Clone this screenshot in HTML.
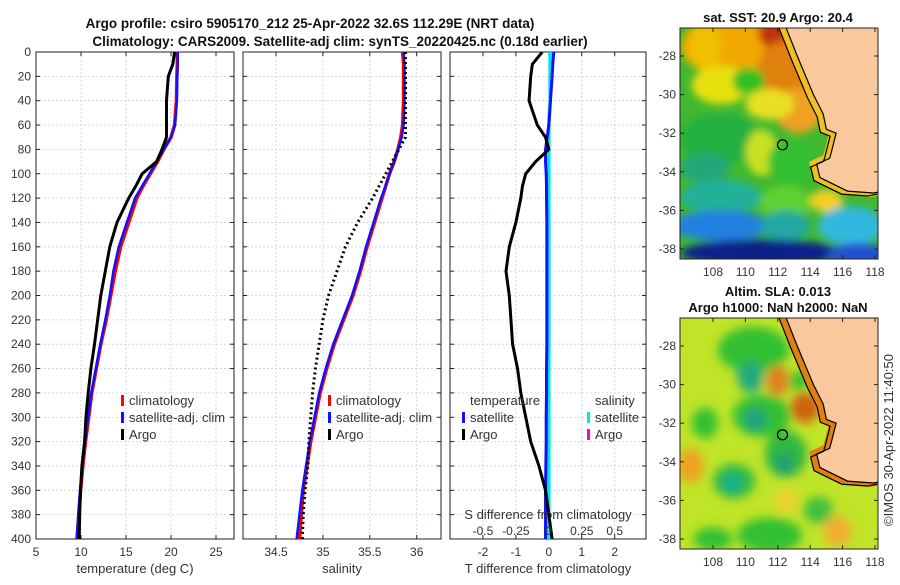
<!DOCTYPE html>
<html><head><meta charset="utf-8"><style>
body{margin:0;background:#fff;}
svg text{font-family:"Liberation Sans",sans-serif;fill:#333;}
</style></head><body>
<svg id="c" width="900" height="580" xmlns="http://www.w3.org/2000/svg">
<defs>
<filter id="bl1" x="-20%" y="-20%" width="140%" height="140%"><feGaussianBlur stdDeviation="4"/></filter>
<filter id="bl2" x="-20%" y="-20%" width="140%" height="140%"><feGaussianBlur stdDeviation="5"/></filter>
<clipPath id="cm1"><rect x="680" y="28" width="198" height="231"/></clipPath>
<clipPath id="cm2"><rect x="680" y="318" width="198" height="231"/></clipPath>
<clipPath id="cp3"><rect x="450" y="52" width="196" height="487"/></clipPath>
</defs>
<text x="310" y="28" font-size="13.5" font-weight="bold" text-anchor="middle" style="fill:#111">Argo profile: csiro 5905170_212 25-Apr-2022 32.6S 112.29E (NRT data)</text>
<text x="340" y="46" font-size="13.5" font-weight="bold" text-anchor="middle" style="fill:#111">Climatology: CARS2009. Satellite-adj clim: synTS_20220425.nc (0.18d earlier)</text>
<g id="g"></g>
</svg>
<script>
const depthTicks=[0,20,40,60,80,100,120,140,160,180,200,220,240,260,280,300,320,340,360,380,400];
const tempTicks=[5,10,15,20,25];
const salTicks=[34.5,35,35.5,36];
const tdTicks=[-2,-1,0,1,2];
const sdTicks=[-0.5,-0.25,0,0.25,0.5];
const sdLabels=["-0.5","-0.25","0","0.25","0.5"];
const depths=[0,10,20,40,60,70,80,90,100,110,120,140,160,180,200,220,240,260,280,300,320,340,360,380,400];
const tempArgo=[20.4,20.2,19.7,19.5,19.5,19.5,19.0,18.4,16.8,16.1,15.3,14.0,13.2,12.7,12.2,11.85,11.5,11.1,10.8,10.55,10.4,10.1,9.95,9.85,9.8];
const tempClim=[20.7,20.7,20.65,20.6,20.4,20.0,19.2,18.5,17.7,16.9,16.2,15.3,14.4,13.8,13.3,12.8,12.2,11.7,11.2,10.85,10.5,10.2,9.95,9.75,9.6];
const tempSat=[20.75,20.75,20.7,20.65,20.45,20.0,19.2,18.4,17.6,16.8,16.0,15.1,14.2,13.6,13.2,12.7,12.15,11.65,11.15,10.8,10.45,10.15,9.9,9.7,9.5];
const salArgo=[35.88,35.88,35.88,35.88,35.88,35.88,35.81,35.74,35.67,35.6,35.53,35.37,35.24,35.15,35.06,35.0,34.96,34.92,34.89,34.87,34.85,34.84,34.81,34.79,34.78];
const salClim=[35.85,35.86,35.86,35.86,35.85,35.83,35.80,35.76,35.71,35.67,35.63,35.55,35.47,35.40,35.32,35.22,35.12,35.04,34.97,34.92,34.87,34.83,34.79,34.77,34.75];
const salSat=[35.86,35.87,35.87,35.87,35.86,35.84,35.80,35.76,35.71,35.67,35.62,35.54,35.46,35.39,35.31,35.21,35.11,35.03,34.96,34.91,34.86,34.82,34.78,34.75,34.72];
const tdArgo=[-0.2,-0.5,-0.55,-0.6,-0.35,-0.1,0.0,-0.4,-0.7,-0.8,-0.85,-1.0,-1.2,-1.3,-1.2,-1.15,-1.1,-0.95,-0.85,-0.7,-0.55,-0.3,-0.1,0.0,0.1];
const tdSat=[0.15,0.12,0.1,0.05,0.0,-0.05,-0.1,-0.1,-0.08,-0.07,-0.07,-0.06,-0.06,-0.06,-0.06,-0.06,-0.06,-0.07,-0.07,-0.08,-0.08,-0.09,-0.1,-0.1,-0.1];
const sdSat=[0.01,0.01,0.01,0.01,0.0,0.0,0.0,0.0,0.0,0.0,0.0,0.0,0.0,0.0,0.0,0.0,0.0,0.0,0.0,0.0,0.0,0.0,0.0,0.0,0.0];
const NS="http://www.w3.org/2000/svg";
const G=document.getElementById('g');
function mk(t,a,p){const e=document.createElementNS(NS,t);for(const k in a)e.setAttribute(k,a[k]);(p||G).appendChild(e);return e;}
const Y0=52,Y1=539;
const yD=d=>Y0+(d/400)*(Y1-Y0);
function panel(x0,x1,v0,v1,ticks,labels,xlabel,name){
  const sx=v=>x0+(v-v0)/(v1-v0)*(x1-x0);
  const g=mk('g',{});
  
  
  depthTicks.forEach(d=>{mk('line',{x1:x0,x2:x1,y1:yD(d),y2:yD(d),stroke:'#c8cfe0','stroke-dasharray':'2,2','stroke-width':0.8},g);});
  ticks.forEach(t=>{mk('line',{x1:sx(t),x2:sx(t),y1:Y0,y2:Y1,stroke:'#c8cfe0','stroke-dasharray':'2,2','stroke-width':0.8},g);
    mk('line',{x1:sx(t),x2:sx(t),y1:Y1,y2:Y1-4,stroke:'#222'},g);mk('line',{x1:sx(t),x2:sx(t),y1:Y0,y2:Y0+4,stroke:'#222'},g);});
  depthTicks.forEach(d=>{mk('line',{x1:x0,x2:x0+4,y1:yD(d),y2:yD(d),stroke:'#222'},g);mk('line',{x1:x1,x2:x1-4,y1:yD(d),y2:yD(d),stroke:'#222'},g);});
  mk('rect',{x:x0,y:Y0,width:x1-x0,height:Y1-Y0,fill:'none',stroke:'#222','stroke-width':1},g);
  if(labels) ticks.forEach((t,i)=>{const tx=mk('text',{x:sx(t),y:556,'font-size':12,'text-anchor':'middle'},g);tx.textContent=labels[i];});
  const xl=mk('text',{x:(x0+x1)/2,y:573,'font-size':13,'text-anchor':'middle'},g);xl.textContent=xlabel;
  return sx;
}
function line(sx,vals,color,w,dash,name,clip){
  const p=mk('polyline',{points:vals.map((v,i)=>sx(v)+','+yD(depths[i])).join(' '),fill:'none',stroke:color,'stroke-width':w,'stroke-linejoin':'round'});
  if(dash)p.setAttribute('stroke-dasharray',dash);
  if(clip)p.setAttribute('clip-path',clip);
  
  
}
function txt(x,y,s,size,anchor,name,extra){const t=mk('text',Object.assign({x:x,y:y,'font-size':size,'text-anchor':anchor||'start'},extra||{}));t.textContent=s;return t;}
depthTicks.forEach(d=>{txt(31,yD(d)+4,String(d),12,'end','depth-tick-label');});
const sT=panel(36,234,5,27,tempTicks,tempTicks.map(String),'temperature (deg C)','temperature-panel');
line(sT,tempClim,'#ff0000',3.5,null,'temp-climatology-line');
line(sT,tempSat,'#1010ff',2.5,null,'temp-satellite-line');
line(sT,tempArgo,'#000',3,null,'temp-argo-line');
const sS=panel(243,441,34.148,36.259,salTicks,["34.5","35","35.5","36"],'salinity','salinity-panel');
line(sS,salClim,'#ff0000',3.5,null,'sal-climatology-line');
line(sS,salSat,'#1010ff',2.5,null,'sal-satellite-line');
line(sS,salArgo,'#000',3,'2,3','sal-argo-line');
const sD=panel(450,646,-3.0,2.95,tdTicks,["-2","-1","0","1","2"],'T difference from climatology','difference-panel');
const sSD=v=>sD(v*4);
mk('line',{x1:sD(0),x2:sD(0),y1:Y0,y2:Y1,stroke:'#888','stroke-dasharray':'1,2'});
line(sSD,sdSat,'#00e5ee',3.5,null,'sal-diff-satellite-line','url(#cp3)');
line(sD,tdSat,'#1010ff',3,null,'temp-diff-satellite-line','url(#cp3)');
line(sD,tdArgo,'#000',3,null,'temp-diff-argo-line','url(#cp3)');
txt(548,519,'S difference from climatology',13,'middle','s-diff-axis-title');
sdTicks.forEach((t,i)=>txt(sSD(t),535,sdLabels[i],12,'middle','s-diff-tick-label'));
function leg(x,y,color,label,name){const r=mk('rect',{x:x,y:y-10,width:3,height:11,fill:color});txt(x+8,y,label,13,'start',name);}
[['#f00','climatology'],['#11f','satellite-adj. clim'],['#000','Argo']].forEach((l,i)=>leg(121,405+i*17,l[0],l[1],'legend-p1-'+i));
[['#f00','climatology'],['#11f','satellite-adj. clim'],['#000','Argo']].forEach((l,i)=>leg(328,405+i*17,l[0],l[1],'legend-p2-'+i));
txt(470,405,'temperature',13,'start','legend-temperature-header');
leg(462,422,'#11f','satellite','legend-temp-satellite');leg(462,439,'#000','Argo','legend-temp-argo');
txt(595,405,'salinity',13,'start','legend-salinity-header');
leg(587,422,'#00e5ee','satellite','legend-sal-satellite');leg(587,439,'#ff00cc','Argo','legend-sal-argo');
const mapLon=[108,110,112,114,116,118];
const mapLat=[-28,-30,-32,-34,-36,-38];
const coast=[[112.4,-26.3],[113.2,-28.0],[114.2,-30.0],[114.8,-31.0],[115.0,-31.8],[115.6,-32.0],[115.3,-33.0],[115.2,-33.3],[114.4,-33.6],[114.6,-34.3],[116.3,-35.0],[117.9,-35.1],[118.5,-35.0]];
const sstBlobs=[[110,-27.5,4,1.8,'#f0a800'],[112.3,-26.8,1.5,1,'#c03010'],[112.5,-29,1.8,1.8,'#e08010'],[107.5,-27.5,1,1.2,'#f0c000'],[108.5,-29.5,1.8,1,'#e8e010'],[110.2,-29.3,1,0.7,'#30c020'],[113.3,-30.8,1.5,1.2,'#f0a020'],[111.5,-30.5,1.5,0.8,'#e8e020'],[108.5,-32.3,2.5,1.3,'#20b040'],[107.5,-33.8,1.5,0.8,'#20a878'],[111,-33,1,1.2,'#c8e020'],[112.8,-33.5,1.4,1.2,'#30c030'],[108.5,-35.3,2.5,0.9,'#20b098'],[112.5,-35.6,1.6,0.9,'#60d030'],[115,-35.5,1,0.6,'#f0d020'],[108.5,-36.8,3,0.8,'#2080e0'],[112.5,-36.8,1.5,0.8,'#20a8a0'],[116.5,-36.8,2,1,'#30b8e0'],[111,-38.2,5,0.7,'#102088'],[117,-38.3,2,0.6,'#2050d0']];
const slaBlobs=[[110.5,-28.2,2.2,1.2,'#30c030'],[110.3,-29.6,0.8,0.8,'#20a880'],[112,-29.8,0.7,0.8,'#e08020'],[113.3,-29.8,0.6,0.5,'#30c030'],[113.7,-31.2,0.9,0.8,'#d06010'],[111,-31.6,1.8,1.1,'#30c030'],[110.6,-31.8,0.7,0.6,'#20a080'],[107.5,-32,0.8,0.8,'#30c030'],[112.5,-33.6,1.3,1.2,'#30b840'],[112.4,-34.1,0.6,0.6,'#20a070'],[109.3,-35,1.3,0.9,'#30b840'],[109.2,-35.1,0.6,0.5,'#10b090'],[106.6,-34.2,0.8,0.9,'#f0a020'],[115.7,-37.6,0.9,0.8,'#f0b030'],[112.5,-36,0.7,0.6,'#f0d030'],[111.5,-37.8,2,0.9,'#30c030'],[108,-38,1.2,0.6,'#30c030'],[114.5,-36.5,0.9,0.7,'#40c040']];
function map(y0,y1,top,bot,bg,blobs,blur,clip,name,coastColor){
  const x0=680,x1=878;
  const sx=l=>713+(l-108)*16.2;
  const sy=l=>top+((-28)-l)/10*(bot-top);
  const ky=(bot-top)/10;
  const g=mk('g',{});
  const inner=mk('g',{'clip-path':clip},g);
  mk('rect',{x:x0,y:y0,width:x1-x0,height:y1-y0,fill:bg},inner);
  const bg2=mk('g',{filter:blur},inner);
  blobs.forEach(b=>{mk('ellipse',{cx:sx(b[0]),cy:sy(b[1]),rx:b[2]*16.2,ry:b[3]*ky,fill:b[4]},bg2);});
  mk('polyline',{points:coast.map(c=>(sx(c[0])-3)+','+sy(c[1])).join(' '),fill:'none',stroke:coastColor,'stroke-width':8},inner);
  const land=coast.map(c=>sx(c[0])+','+sy(c[1])).join(' ')+' 900,'+sy(-35)+' 900,'+(y0-5);
  const lp=mk('polygon',{points:land,fill:'#f9c89c'},inner);
  
  mk('polyline',{points:coast.map(c=>sx(c[0])+','+sy(c[1])).join(' '),fill:'none',stroke:'#000','stroke-width':1.2},inner);
  mk('polyline',{points:coast.map(c=>(sx(c[0])-6)+','+(sy(c[1])+3)).join(' '),fill:'none',stroke:'#000','stroke-width':1.2},inner);
  const m=mk('circle',{cx:sx(112.29),cy:sy(-32.6),r:5,fill:'none',stroke:'#000','stroke-width':1.3},g);
  
  mk('rect',{x:x0,y:y0,width:x1-x0,height:y1-y0,fill:'none',stroke:'#222'},g);
  mapLat.forEach(l=>{const y=sy(l);mk('line',{x1:x0,x2:x0+4,y1:y,y2:y,stroke:'#222'},g);mk('line',{x1:x1,x2:x1-4,y1:y,y2:y,stroke:'#222'},g);txt(x0-4,y+4,String(l),12,'end','map-lat-label');});
  mapLon.forEach(l=>{const x=sx(l);mk('line',{x1:x,x2:x,y1:y1,y2:y1-4,stroke:'#222'},g);mk('line',{x1:x,x2:x,y1:y0,y2:y0+4,stroke:'#222'},g);txt(x,y1+17,String(l),12,'middle','map-lon-label');});
}
map(28,259,56,249,'#40b830',sstBlobs,'url(#bl1)','url(#cm1)','sst-map','#f0c020');
map(318,549,346,539,'#c0e428',slaBlobs,'url(#bl2)','url(#cm2)','sla-map','#e08010');
txt(778,22,'sat. SST: 20.9 Argo: 20.4',13,'middle','sst-map-title',{'font-weight':'bold',style:'fill:#111'});
txt(778,296,'Altim. SLA: 0.013',13,'middle','sla-map-title',{'font-weight':'bold',style:'fill:#111'});
txt(778,312,'Argo h1000: NaN h2000: NaN',13,'middle','sla-map-subtitle',{'font-weight':'bold',style:'fill:#111'});
txt(0,0,'©IMOS 30-Apr-2022 11:40:50',13,'middle','timestamp',{transform:'translate(893,440) rotate(-90)'});
</script>
</body></html>
